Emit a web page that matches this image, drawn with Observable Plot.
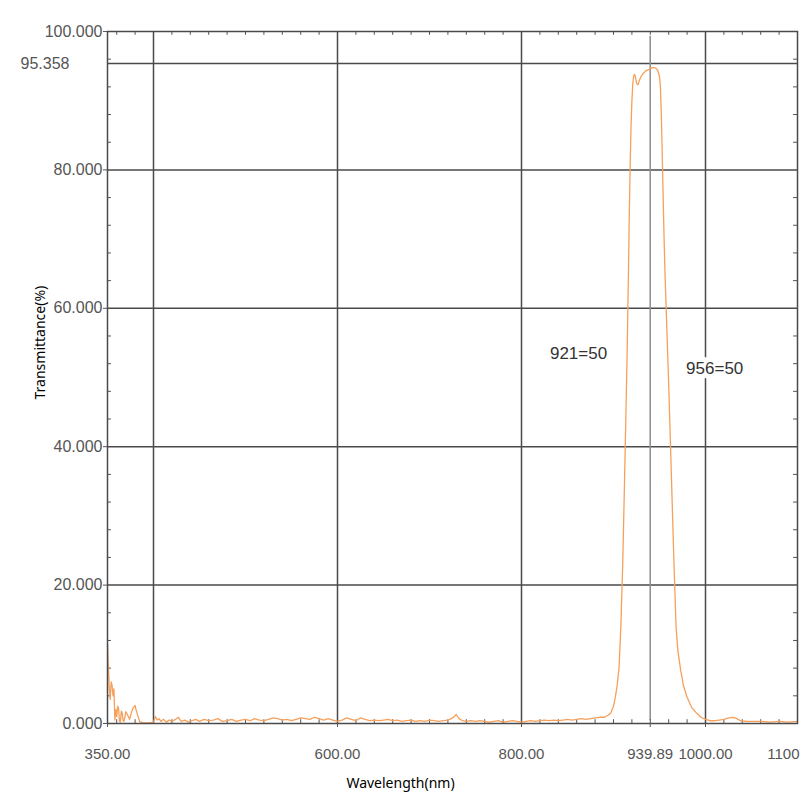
<!DOCTYPE html>
<html>
<head>
<meta charset="utf-8">
<script src="https://cdn.jsdelivr.net/npm/d3@7"></script>
<script src="https://cdn.jsdelivr.net/npm/@observablehq/plot@0.6"></script>
<style>
  body { margin: 0; background: #fff; }
</style>
</head>
<body>
<div id="chart"></div>
<script>
// spectrum (nm, %T)
const wavelength = [
  350, 351, 352, 353, 354, 355, 356, 357, 358, 359, 360, 361, 362, 363, 364, 365, 366, 367, 368,
  370, 372, 374, 376, 378, 380, 381, 383, 385, 388, 392, 396, 400, 402, 404, 406, 408, 411, 414,
  417, 420, 424, 427, 430, 434, 438, 442, 446, 450, 455, 460, 465, 470, 475, 480, 485, 490, 495,
  500, 505, 510, 515, 520, 525, 530, 535, 540, 545, 550, 555, 560, 565, 570, 575, 580, 585, 590,
  595, 600, 605, 610, 615, 620, 625, 630, 635, 640, 645, 650, 655, 660, 665, 670, 675, 680, 685,
  690, 695, 700, 705, 710, 715, 720, 725, 729, 732, 736, 740, 745, 750, 755, 760, 765, 770, 775,
  780, 785, 790, 795, 800, 805, 810, 815, 820, 825, 830, 835, 840, 845, 850, 855, 860, 865, 870,
  875, 880, 885, 890, 894, 897, 900, 902, 904, 906, 908, 910, 912, 914, 915, 916, 917, 918, 919,
  920, 921, 922, 923, 924, 925, 926, 927, 928, 930, 932, 935, 938, 941, 944, 946, 948, 950, 951,
  952, 953, 954, 955, 956, 958, 960, 962, 964, 966, 968, 970, 973, 976, 980, 985, 991, 995, 1000,
  1005, 1010, 1015, 1020, 1025, 1030, 1034, 1038, 1045, 1050, 1060, 1070, 1080, 1090, 1100
];
const transmittance = [
  11.5, 8, 5, 3.5, 6, 5.5, 4, 5, 0.5, 2, 1, 2.5, 2.2, 0.3, 0.2, 1.8, 1.5, 0.4, 0.3,
  1.7, 1.2, 0.6, 1.6, 2.3, 2.6, 2.0, 1.1, 0.3, 0.1, 0.1, 0.1, 0.2, 1.0, 0.5, 0.7, 0.3, 0.6, 0.2,
  0.5, 0.3, 0.6, 0.9, 0.3, 0.5, 0.2, 0.4, 0.6, 0.3, 0.6, 0.4, 0.5, 0.7, 0.3, 0.4, 0.6, 0.3, 0.5,
  0.6, 0.4, 0.7, 0.5, 0.4, 0.6, 0.8, 0.7, 0.5, 0.6, 0.4, 0.6, 0.8, 0.7, 0.6, 0.9, 0.7, 0.5, 0.7,
  0.5, 0.3, 0.5, 0.8, 0.6, 0.4, 0.8, 0.6, 0.4, 0.5, 0.4, 0.5, 0.6, 0.4, 0.5, 0.3, 0.4, 0.5, 0.3,
  0.4, 0.3, 0.5, 0.4, 0.3, 0.4, 0.5, 0.8, 1.3, 0.7, 0.4, 0.3, 0.4, 0.3, 0.4, 0.3, 0.2, 0.3, 0.4,
  0.2, 0.3, 0.4, 0.3, 0.2, 0.3, 0.4, 0.3, 0.4, 0.5, 0.4, 0.5, 0.4, 0.5, 0.6, 0.5, 0.6, 0.7, 0.6,
  0.7, 0.8, 0.9, 0.9, 1.2, 1.5, 2.5, 3.8, 5.5, 8, 14, 23, 35, 48, 55, 63, 72, 80, 86,
  90, 92.5, 93.6, 93.8, 93.3, 92.6, 92.3, 92.4, 92.9, 93.5, 93.9, 94.3, 94.5, 94.7, 94.8, 94.7, 94.4, 93.5, 92,
  88, 82, 76, 70, 65, 57, 49, 40, 31, 22, 14, 10.5, 7.7, 5.5, 3.8, 2.3, 1.4, 0.9, 0.6,
  0.4, 0.4, 0.5, 0.6, 0.8, 0.9, 0.7, 0.4, 0.3, 0.3, 0.3, 0.2, 0.3, 0.2, 0.3
];

const xTicks = [350, 600, 800, 939.89, 1000];
const xEdgeTick = [1100];
const xGrid = [400, 600, 800, 1000];
const yTicks = [0, 20, 40, 60, 80, 100];
const yGrid = [20, 40, 60, 80];
const peakMax = 95.358;
const peakCenter = 939.89;

const noteText = ["921=50", "956=50"];
const noteX = [862, 1010];
const noteY = [53.4, 51.3];

const data = wavelength.map((w, i) => ({w: w, t: transmittance[i]}));
const notes = noteText.map((s, i) => ({s: s, x: noteX[i], y: noteY[i]}));
const minorX = d3.range(360, 1100, 20).filter(v => !xGrid.includes(v));
const minorY = d3.range(4, 100, 4).filter(v => v % 20 !== 0);

const tickFont = "'Liberation Sans',Arial,sans-serif";
const labelFont = "'Noto Sans',sans-serif";

let chart = Plot.plot({
  width: 800,
  height: 800,
  marginLeft: 107,
  marginRight: 3,
  marginTop: 31,
  marginBottom: 77,
  x: {domain: [350, 1100]},
  y: {domain: [0, 100]},
  style: {fontFamily: tickFont, fontSize: "16px", color: "#555", background: "#fff"},
  marks: [
    Plot.ruleX(xGrid, {stroke: "#4a4a4a", strokeWidth: 1.5}),
    Plot.ruleY(yGrid, {stroke: "#4a4a4a", strokeWidth: 1.5}),
    Plot.ruleY([peakMax], {stroke: "#4a4a4a", strokeWidth: 1.5}),
    Plot.ruleX([peakCenter], {y1: 0.4, y2: 99.3, stroke: "#8c8c8c", strokeWidth: 1.5}),
    // small inside ticks
    Plot.ruleX(minorX, {y1: 0, y2: 0.55, stroke: "#555"}),
    Plot.ruleX(minorX, {y1: 99.45, y2: 100, stroke: "#555"}),
    Plot.ruleY(minorY, {x1: 350, x2: 354.3, stroke: "#555"}),
    Plot.ruleY(minorY, {x1: 1095.7, x2: 1100, stroke: "#555"}),
    Plot.line(data, {x: "w", y: "t", stroke: "#f5a05c", strokeWidth: 1.3}),
    Plot.frame({stroke: "#4a4a4a", strokeWidth: 1.5}),
    Plot.axisX(xTicks, {tickFormat: d => d.toFixed(2), tickSize: 4, tickPadding: 21, fontSize: 15, label: null}),
    Plot.text(xEdgeTick, {x: d => d, frameAnchor: "bottom", text: d => String(d), textAnchor: "end", lineAnchor: "top", dx: 2, dy: 25, fontSize: 15, fill: "#555"}),
    Plot.axisY(yTicks, {tickFormat: d => d.toFixed(3), tickSize: 4, tickPadding: 1, label: null}),
    Plot.text([peakMax], {y: d => d, frameAnchor: "left", text: d => d.toFixed(3), textAnchor: "end", dx: -38, fill: "#555"}),
    Plot.text(notes, {x: "x", y: "y", text: "s", fontFamily: "'Liberation Sans',sans-serif", fontSize: 17, fill: "#333", stroke: "#fff", strokeWidth: 10}),
    Plot.text(["Transmittance(%)"], {frameAnchor: "left", text: d => d, rotate: -90, dx: -67, dy: 22, fontFamily: labelFont, fontSize: 14, fill: "#000"}),
    Plot.text(["Wavelength(nm)"], {frameAnchor: "bottom", text: d => d, dx: -52, dy: 64, fontFamily: labelFont, fontSize: 14, fill: "#000"})
  ]
});

d3.select('#chart').append(() => chart);
</script>
</body>
</html>
